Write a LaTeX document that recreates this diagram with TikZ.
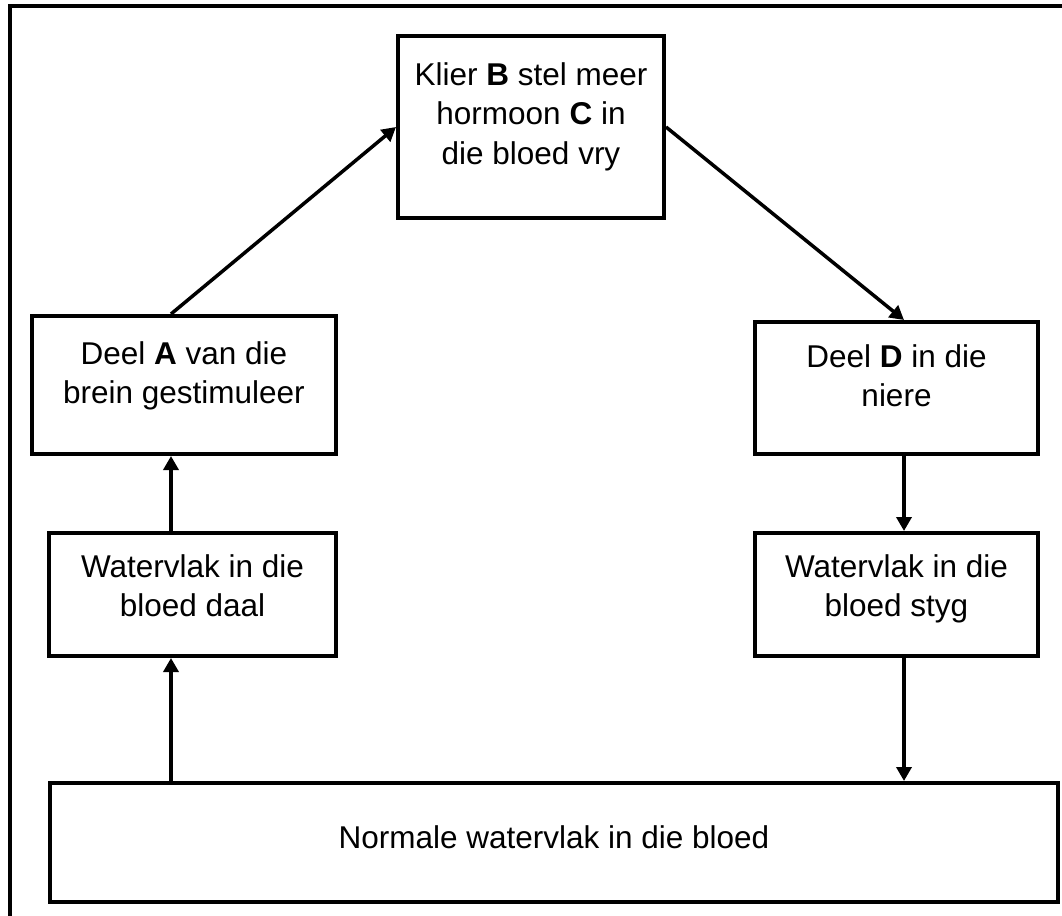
\documentclass[tikz,border=0pt]{standalone}
\usepackage{fontspec}
\setmainfont{Liberation Sans}
\usepackage{tikz}
\usetikzlibrary{arrows.meta}

\begin{document}
\begin{tikzpicture}[x=1pt,y=-1pt,
                block/.style={rectangle, draw, line width=4pt, align=center, inner sep=0pt,
                              font=\fontsize{31.5}{39.5}\selectfont},
                arrow/.style={draw, line width=3.5pt, -{Triangle[width=15pt,length=14pt]}}
            ]
            \useasboundingbox (0,0) rectangle (1062,915);
            % frame
            \draw[line width=4pt] (10,6) rectangle (1080,940);
            % boxes
            \node[block, minimum width=266pt, minimum height=182pt, text depth=27pt] (klier) at (531,127)
                {Klier \textbf{B} stel meer\\hormoon \textbf{C} in\\die bloed vry};
            \node[block, minimum width=304pt, minimum height=138pt, text depth=25pt] (deelA) at (184,385)
                {Deel \textbf{A} van die\\brein gestimuleer};
            \node[block, minimum width=283pt, minimum height=132pt, text depth=25pt] (deelD) at (896.5,388)
                {Deel \textbf{D} in die\\niere};
            \node[block, minimum width=287pt, minimum height=123pt, text depth=18pt] (daal) at (192.5,594.5)
                {Watervlak in die\\bloed daal};
            \node[block, minimum width=283pt, minimum height=123pt, text depth=18pt] (styg) at (896.5,594.5)
                {Watervlak in die\\bloed styg};
            \node[block, minimum width=1008pt, minimum height=119pt, text depth=10pt] (normaal) at (554,842.5)
                {Normale watervlak in die bloed};
            % arrow columns
            \coordinate (xleft) at (171,0);
            \coordinate (xright) at (904,0);
            % arrows
            \path[arrow] (normaal.north -| xleft) -- (daal.south -| xleft);
            \path[arrow] (daal.north -| xleft) -- (deelA.south -| xleft);
            \path[arrow] (deelA.north -| xleft) -- (klier.west);
            \path[arrow] (klier.east) -- (deelD.north -| xright);
            \path[arrow] (deelD.south -| xright) -- (styg.north -| xright);
            \path[arrow] (styg.south -| xright) -- (normaal.north -| xright);
        \end{tikzpicture}
\end{document}
